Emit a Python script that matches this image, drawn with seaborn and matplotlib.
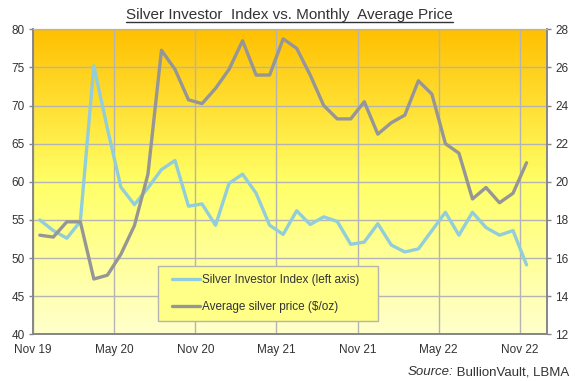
import numpy as np
import pandas as pd
import matplotlib
matplotlib.use('Agg')
import matplotlib.pyplot as plt
import seaborn as sns
from matplotlib.colors import LinearSegmentedColormap
from matplotlib.lines import Line2D
from matplotlib.patches import Rectangle

# Monthly data, Nov 2019 - Nov 2022
months = pd.date_range('2019-11-01', '2022-11-01', freq='MS')
investor_index = [55.0, 53.6, 52.6, 54.8, 75.2, 67.0, 59.3, 57.0, 59.2, 61.6,
                  62.8, 56.8, 57.1, 54.3, 59.8, 61.0, 58.5, 54.3, 53.1, 56.2,
                  54.4, 55.4, 54.8, 51.8, 52.1, 54.5, 51.7, 50.8, 51.2, 53.6,
                  56.0, 53.0, 56.0, 54.0, 53.0, 53.6, 49.1]
silver_price = [17.2, 17.1, 17.9, 17.9, 14.9, 15.1, 16.2, 17.7, 20.4, 26.9,
                25.9, 24.3, 24.1, 24.9, 25.9, 27.4, 25.6, 25.6, 27.5, 27.0,
                25.6, 24.0, 23.3, 23.3, 24.2, 22.5, 23.1, 23.5, 25.3, 24.6,
                22.0, 21.5, 19.1, 19.7, 18.9, 19.4, 21.0]
tick_labels = ['Nov 19', 'May 20', 'Nov 20', 'May 21', 'Nov 21', 'May 22', 'Nov 22']

df = pd.DataFrame({'pos': np.arange(len(months)) + 0.5,
                   'index': investor_index,
                   'price': silver_price})

sns.set_style('white')
plt.rcParams['font.family'] = ['Liberation Sans', 'DejaVu Sans']

fig = plt.figure(figsize=(5.75, 3.81), dpi=100)
ax = fig.add_axes([0.0574, 0.1226, 0.8936, 0.8005])
ax2 = ax.twinx()

# yellow/orange gradient background
cmap = LinearSegmentedColormap.from_list('bg', ['#FFC000', '#FFFF66', '#FFFFCC'])
ax.imshow(np.linspace(0, 1, 256).reshape(-1, 1), aspect='auto', cmap=cmap,
          extent=[0, 38, 40, 80], origin='upper', zorder=0)

blue = '#92CDDC'
grey = '#969696'
sns.lineplot(data=df, x='pos', y='index', ax=ax, color=blue, lw=2.4, legend=False, zorder=3)
sns.lineplot(data=df, x='pos', y='price', ax=ax2, color=grey, lw=2.4, legend=False, zorder=3)

ax.set_xlim(0, 38)
ax.set_ylim(40, 80)
ax2.set_ylim(12, 28)
ax.set_xticks(np.arange(0, 37, 6))
ax.set_xticklabels(tick_labels)
ax.set_yticks(np.arange(40, 81, 5))
ax2.set_yticks(np.arange(12, 29, 2))
ax.set_xlabel('')
ax.set_ylabel('')
ax2.set_ylabel('')

ax.set_axisbelow(True)
ax.grid(True, color='#b4b4b4', lw=1)
ax2.grid(False)

for a in (ax, ax2):
    for side in ('left', 'bottom', 'right'):
        a.spines[side].set_color('#868686')
        a.spines[side].set_linewidth(1.2)
    a.spines['top'].set_color('#b4b4b4')
    a.tick_params(length=3, width=1, color='#868686', labelcolor='#333333',
                  labelsize=8.5, pad=3)
ax.tick_params(axis='x', pad=4)

# legend box drawn by hand, entries placed inside it
ax2.add_patch(Rectangle((0.244, 0.0436), 0.427, 0.1814, transform=ax2.transAxes,
                        facecolor='#FFFF88', edgecolor='#b4b4b4', lw=1, zorder=4))
handles = [Line2D([], [], color=blue, lw=2.4), Line2D([], [], color=grey, lw=2.4)]
leg = ax2.legend(handles, ['Silver Investor Index (left axis)', 'Average silver price ($/oz)'],
                 loc='center left', bbox_to_anchor=(0.270, 0.1326), fontsize=8.5,
                 frameon=False, borderpad=0, labelspacing=1.25,
                 handlelength=2.4, handletextpad=0.2, borderaxespad=0)
leg.set_zorder(5)
for t in leg.get_texts():
    t.set_color('#333333')

# title with underline
title = fig.text(0.503, 0.950, 'Silver Investor  Index vs. Monthly  Average Price',
                 ha='center', va='baseline', fontsize=11, color='#333333')
src = fig.text(0.990, 0.0157, ' BullionVault, LBMA', ha='right', va='baseline',
               fontsize=9.5, color='#333333')
fig.canvas.draw()
r = fig.canvas.get_renderer()
bb = title.get_window_extent(r)
fig.add_artist(Line2D([bb.x0 / 575, bb.x1 / 575], [(381 - 22) / 381] * 2,
                      color='#333333', lw=1))
sb = src.get_window_extent(r)
fig.text(sb.x0 / 575, 0.0157, 'Source:', ha='right', va='baseline', fontsize=9.5,
         style='italic', color='#333333')

fig.savefig('out.png', dpi=100)
